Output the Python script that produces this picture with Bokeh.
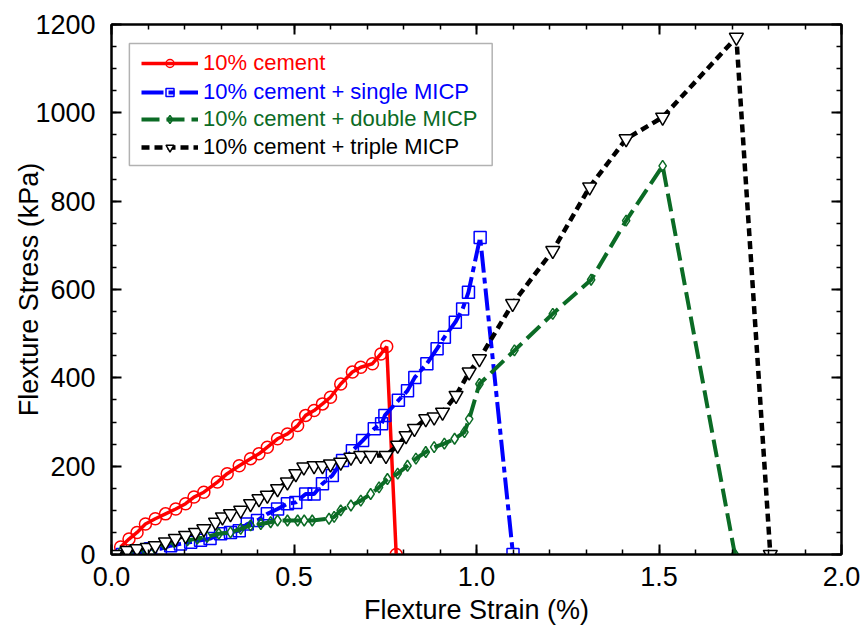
from bokeh.plotting import figure
from bokeh.models import (LinearAxis, SingleIntervalTicker, NumeralTickFormatter,
                          Legend, LegendItem, BoxAnnotation, Range1d)
from bokeh.embed import file_html
from bokeh.resources import INLINE

# ---------------- data ----------------
series_names = ["10% cement", "10% cement + single MICP",
                "10% cement + double MICP", "10% cement + triple MICP"]

cement_strain = [0.025, 0.048, 0.070, 0.093, 0.120, 0.148, 0.176, 0.203, 0.226, 0.253,
                 0.290, 0.317, 0.350, 0.381, 0.404, 0.427, 0.455, 0.482, 0.510, 0.532,
                 0.555, 0.578, 0.600, 0.628, 0.660, 0.683, 0.715, 0.738, 0.754, 0.780]
cement_stress = [17, 35, 50, 69, 81, 92, 103, 115, 130, 141,
                 164, 183, 201, 217, 228, 243, 262, 273, 292, 315,
                 326, 341, 356, 386, 413, 424, 432, 454, 471, 0]

single_strain = [0.030, 0.052, 0.080, 0.107, 0.134, 0.162, 0.189, 0.217, 0.244, 0.270,
                 0.299, 0.326, 0.350, 0.372, 0.400, 0.427, 0.455, 0.482, 0.505, 0.532,
                 0.555, 0.578, 0.605, 0.633, 0.660, 0.688, 0.720, 0.740, 0.749, 0.786,
                 0.811, 0.831, 0.864, 0.892, 0.912, 0.942, 0.962, 0.978, 1.010, 1.100]
single_stress = [0, 3, 5, 13, 13, 20, 24, 28, 32, 36,
                 47, 50, 54, 69, 77, 92, 103, 115, 118, 137,
                 137, 160, 179, 213, 235, 258, 285, 296, 315, 349,
                 371, 401, 432, 466, 492, 526, 556, 594, 718, 0]

double_strain = [0.000, 0.025, 0.050, 0.089, 0.117, 0.144, 0.172, 0.208, 0.235, 0.262,
                 0.294, 0.326, 0.354, 0.381, 0.409, 0.436, 0.455, 0.482, 0.510, 0.528,
                 0.550, 0.596, 0.610, 0.628, 0.656, 0.683, 0.710, 0.733, 0.756, 0.784,
                 0.811, 0.834, 0.861, 0.884, 0.912, 0.940, 0.967, 0.980, 1.008, 1.104,
                 1.209, 1.314, 1.410, 1.510, 1.708]
double_stress = [0, 5, 8, 13, 16, 24, 28, 32, 36, 40,
                 47, 50, 58, 66, 69, 73, 77, 77, 77, 77,
                 77, 81, 85, 100, 111, 122, 137, 152, 171, 183,
                 201, 217, 232, 243, 251, 262, 277, 307, 386, 462,
                 545, 622, 756, 880, 0]

triple_strain = [0.010, 0.043, 0.070, 0.098, 0.120, 0.148, 0.175, 0.203, 0.230, 0.253,
                 0.285, 0.304, 0.326, 0.354, 0.381, 0.404, 0.427, 0.455, 0.482, 0.505,
                 0.527, 0.555, 0.578, 0.600, 0.628, 0.656, 0.683, 0.710, 0.752, 0.784,
                 0.807, 0.830, 0.861, 0.884, 0.907, 0.944, 0.980, 1.008, 1.099, 1.209,
                 1.310, 1.410, 1.510, 1.712, 1.805]
triple_stress = [0, 9, 13, 16, 20, 28, 36, 43, 50, 58,
                 73, 85, 92, 100, 115, 126, 134, 149, 164, 183,
                 198, 201, 201, 205, 209, 220, 224, 224, 224, 247,
                 269, 285, 307, 311, 322, 360, 413, 443, 568, 688,
                 832, 941, 990, 1171, 0]

x_label = "Flexture Strain (%)"
y_label = "Flexture Stress (kPa)"

# ---------------- styling ----------------
FONT = "Liberation Sans"
RED, BLUE, GREEN, BLACK = "#ff0000", "#0000ff", "#0b6b25", "#000000"

p = figure(width=863, height=628, x_range=Range1d(0, 2), y_range=Range1d(0, 1200),
           output_backend="svg", toolbar_location=None,
           min_border_left=111, min_border_right=22, min_border_top=24, min_border_bottom=74)
p.grid.visible = False
p.outline_line_color = "black"
p.outline_line_width = 2
p.background_fill_color = "white"
p.border_fill_color = "white"

xt = SingleIntervalTicker(interval=0.5, num_minor_ticks=5)
yt = SingleIntervalTicker(interval=200, num_minor_ticks=4)


def style_axis(ax):
    ax.axis_line_color = "black"
    ax.axis_line_width = 2
    ax.major_tick_in = 10
    ax.major_tick_out = 0
    ax.minor_tick_in = 5
    ax.minor_tick_out = 0
    ax.major_tick_line_color = "black"
    ax.minor_tick_line_color = "black"
    ax.major_tick_line_width = 2
    ax.minor_tick_line_width = 1.5
    ax.major_label_text_font = FONT
    ax.major_label_text_font_size = "27px"
    ax.major_label_text_color = "black"
    ax.axis_label_text_font = FONT
    ax.axis_label_text_font_size = "27px"
    ax.axis_label_text_font_style = "normal"
    ax.axis_label_text_color = "black"


xa = p.xaxis[0]
ya = p.yaxis[0]
xa.ticker = xt
ya.ticker = yt
style_axis(xa)
style_axis(ya)
xa.formatter = NumeralTickFormatter(format="0.0")
xa.axis_label = x_label
ya.axis_label = y_label
xa.major_label_standoff = 12
xa.axis_label_standoff = 6
ya.major_label_standoff = 16
ya.axis_label_standoff = -12

# mirrored tick marks on the top and right sides, without labels
top = LinearAxis(ticker=xt)
right = LinearAxis(ticker=yt)
for ax in (top, right):
    style_axis(ax)
    ax.major_label_text_font_size = "1px"
    ax.major_label_text_color = None
    ax.major_label_standoff = 0
p.add_layout(top, "above")
p.add_layout(right, "right")

# ---------------- series ----------------
r1l = p.line(cement_strain, cement_stress, line_color=RED, line_width=3.5)
r1m = p.scatter(cement_strain, cement_stress, marker="circle", size=12,
                fill_color=None, line_color=RED, line_width=1.5)

r2l = p.line(single_strain, single_stress, line_color=BLUE, line_width=4, line_dash="22 5 6 5")
r2m = p.scatter(single_strain, single_stress, marker="square", size=12,
                fill_color=None, line_color=BLUE, line_width=1.5)

r3l = p.line(double_strain, double_stress, line_color=GREEN, line_width=4, line_dash="18 7")
r3m = p.scatter(double_strain, double_stress, marker="diamond", size=11,
                fill_color=None, line_color=GREEN, line_width=1.5)

r4l = p.line(triple_strain, triple_stress, line_color=BLACK, line_width=4.5, line_dash="8 5")
r4m = p.scatter(triple_strain, triple_stress, marker="inverted_triangle", size=14,
                fill_color="white", line_color=BLACK, line_width=1.5)

# ---------------- legend ----------------
legend_box = BoxAnnotation(left=0.049, right=1.043, bottom=881, top=1157,
                           fill_alpha=0, line_color="black", line_width=1.5)
p.add_layout(legend_box)

entries = [
    (series_names[0], [r1l, r1m], RED, 477),
    (series_names[1], [r2l, r2m], BLUE, 448),
    (series_names[2], [r3l, r3m], GREEN, 421),
    (series_names[3], [r4l, r4m], BLACK, 393),
]
for name, rends, col, vy in entries:
    lg = Legend(items=[LegendItem(label=name, renderers=rends)], location=(30, vy),
                glyph_width=57, glyph_height=20, label_standoff=5, padding=0, margin=0,
                spacing=0, label_height=28, label_text_font=FONT,
                label_text_font_size="22px", label_text_color=col,
                border_line_alpha=0, background_fill_alpha=0)
    p.add_layout(lg)

open("out.html", "w").write(file_html(p, INLINE))
